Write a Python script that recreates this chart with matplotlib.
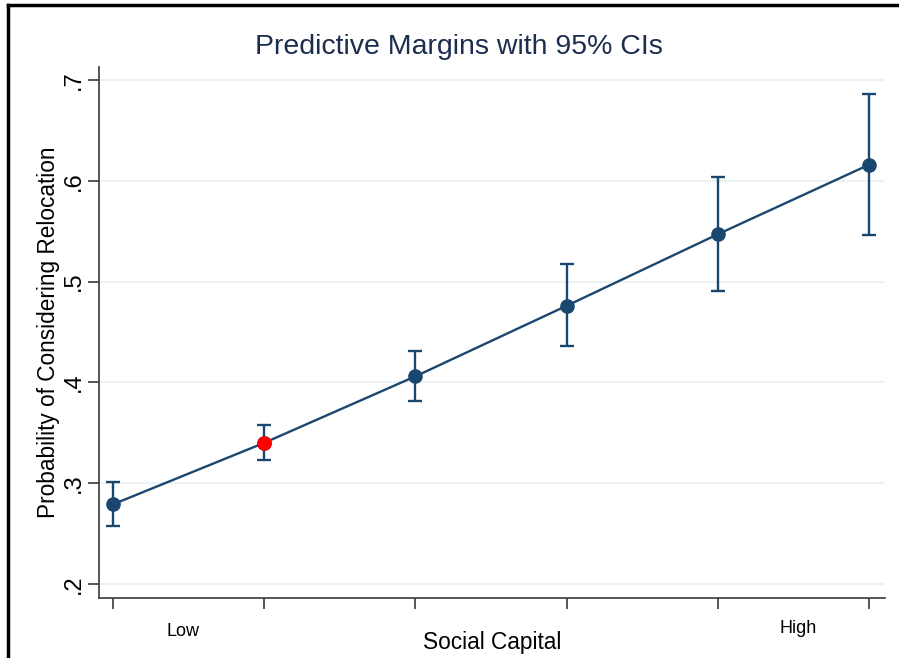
import numpy as np
import matplotlib.pyplot as plt
from matplotlib.lines import Line2D

# margins of social capital levels 1..6
levels = [1, 2, 3, 4, 5, 6]
margin = [0.279, 0.340, 0.406, 0.476, 0.547, 0.616]
ci_low = [0.257, 0.3225, 0.382, 0.436, 0.491, 0.546]
ci_high = [0.301, 0.3575, 0.431, 0.517, 0.604, 0.686]
yticks = [0.2, 0.3, 0.4, 0.5, 0.6, 0.7]
yticklabels = ['.2', '.3', '.4', '.5', '.6', '.7']
end_labels = ['Low', 'High']
end_pos = [1.46, 5.53]
end_y = [-0.064, -0.058]
highlight = 1  # index of the point drawn in red

plt.rcParams['font.family'] = ['Liberation Sans', 'DejaVu Sans']
navy = '#1a476f'

fig = plt.figure(figsize=(8.99, 6.58), dpi=100)
ax = fig.add_axes([99/899, 1-598/658, (885-99)/899, (598-67)/658])

m = np.array(margin)
err = np.vstack([m - np.array(ci_low), np.array(ci_high) - m])
ax.errorbar(levels, margin, yerr=err, fmt='none', ecolor=navy,
            elinewidth=1.7, capsize=5, capthick=1.7, zorder=3)
ax.plot(levels, margin, color=navy, lw=1.7, marker='o', ms=9.5,
        mfc=navy, mec=navy, zorder=4)
ax.plot(levels[highlight], margin[highlight], 'o', ms=9.5,
        color='#ff0000', zorder=5)

ax.set_xlim(0.907, 6.106)
ax.set_ylim(0.186, 0.713)
ax.set_yticks(yticks)
ax.set_yticklabels(yticklabels, rotation=90, va='center', fontsize=17)
ax.set_xticks(levels)
ax.set_xticklabels([])
ax.grid(axis='y', color='#eaf2f3', lw=1.5)
ax.set_axisbelow(True)
for s in ['top', 'right']:
    ax.spines[s].set_visible(False)
for s in ['left', 'bottom']:
    ax.spines[s].set_color('#3a3a3a')
    ax.spines[s].set_linewidth(1.2)
ax.tick_params(colors='#3a3a3a', length=8, width=1.2, labelcolor='black')
ax.tick_params(axis='y', pad=2)

for lab, xp, yp in zip(end_labels, end_pos, end_y):
    ax.text(xp, yp, lab, transform=ax.get_xaxis_transform(),
            ha='center', va='center', fontsize=13)
ax.set_xlabel('Social Capital', fontsize=16.3)
ax.xaxis.set_label_coords(0.5, -0.083)
ax.xaxis.label.set_va('center')
ax.set_ylabel('Probability of Considering Relocation', fontsize=16.3)
ax.yaxis.set_label_coords((49-99)/786, 0.5)
ax.yaxis.label.set_va('center')

fig.text(459/899, 1-47/658, 'Predictive Margins with 95% CIs',
         ha='center', va='center', fontsize=20.5, color='#1c2d4f')

# outer frame edges
fig.add_artist(Line2D([8/899, 1], [1-5/658, 1-5/658], color='black', lw=2.5))
fig.add_artist(Line2D([8/899, 8/899], [0, 1-5/658], color='black', lw=2.5))

fig.savefig('out.png', dpi=100)
